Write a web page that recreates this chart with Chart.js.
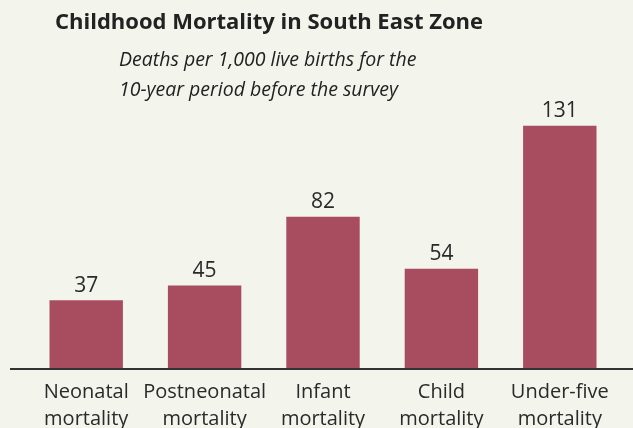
<!DOCTYPE html>
<html>
<head>
<meta charset="utf-8">
<script src="https://cdn.jsdelivr.net/npm/chart.js@4"></script>
<style>
  html, body { margin: 0; padding: 0; background: #f3f5ec; }
  #wrap { width: 633px; height: 428px; }
</style>
</head>
<body>
<div id="wrap"><canvas id="myChart"></canvas></div>
<script>
const categories = [
    ['Neonatal', 'mortality'],
    ['Postneonatal', 'mortality'],
    ['Infant', 'mortality'],
    ['Child', 'mortality'],
    ['Under-five', 'mortality']
];
const deaths = [37, 45, 82, 54, 131];

const titleText = 'Childhood Mortality in South East Zone';
const subtitleLines = ['Deaths per 1,000 live births for the', '10-year period before the survey'];

const fontFamily = '"Open Sans", "DejaVu Sans", sans-serif';
const barColor = '#a84d60';
const textColor = '#2a2a2a';

// title, subtitle, baseline and value labels
const decorations = {
    id: 'decorations',
    afterDatasetsDraw(chart) {
        const c = chart.ctx;
        const area = chart.chartArea;
        c.save();

        c.fillStyle = '#222';
        c.textAlign = 'center';
        c.textBaseline = 'middle';
        c.font = 'bold 22px ' + fontFamily;
        c.fillText(titleText, 269, 23);

        c.font = 'italic 19.5px ' + fontFamily;
        c.textAlign = 'left';
        c.fillText(subtitleLines[0], 119, 60);
        c.fillText(subtitleLines[1], 119, 90);

        c.strokeStyle = '#333';
        c.lineWidth = 2;
        c.beginPath();
        c.moveTo(10, area.bottom);
        c.lineTo(chart.width, area.bottom);
        c.stroke();

        c.fillStyle = textColor;
        c.textAlign = 'center';
        c.textBaseline = 'bottom';
        c.font = '21px ' + fontFamily;
        const meta = chart.getDatasetMeta(0);
        meta.data.forEach((bar, i) => {
            c.fillText(String(deaths[i]), bar.x, bar.y - 4);
        });
        c.restore();
    }
};

new Chart(document.getElementById('myChart'), {
    type: 'bar',
    data: {
        labels: categories,
        datasets: [{
            data: deaths,
            backgroundColor: barColor,
            borderWidth: 0,
            categoryPercentage: 1,
            barPercentage: 0.62
        }]
    },
    options: {
        responsive: true,
        maintainAspectRatio: false,
        animation: false,
        events: [],
        layout: {
            padding: { top: 109, left: 27, right: 14, bottom: 0 }
        },
        plugins: {
            legend: { display: false },
            tooltip: { enabled: false }
        },
        scales: {
            x: {
                grid: { display: false },
                border: { display: false },
                afterFit: (scale) => { scale.height = 59; },
                ticks: {
                    color: textColor,
                    padding: 2,
                    autoSkip: false,
                    maxRotation: 0,
                    minRotation: 0,
                    font: { family: fontFamily, size: 20, lineHeight: 1.35 }
                }
            },
            y: {
                display: false,
                min: 0,
                max: 140
            }
        }
    },
    plugins: [decorations]
});
</script>
</body>
</html>
